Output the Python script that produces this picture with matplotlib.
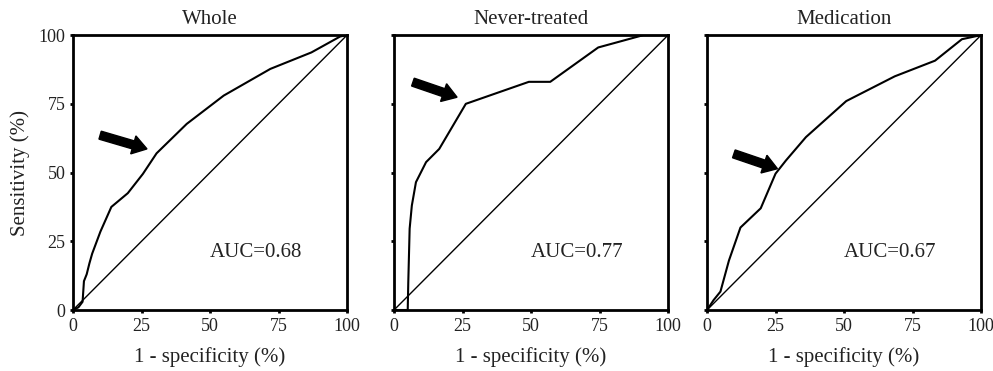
import matplotlib
matplotlib.use("Agg")
import matplotlib.pyplot as plt
import numpy as np

plt.rcParams["font.family"] = ["Liberation Serif", "DejaVu Serif"]

TITLES = ["Whole", "Never-treated", "Medication"]
AUC_LABELS = ["AUC=0.68", "AUC=0.77", "AUC=0.67"]
TICKS = [0, 25, 50, 75, 100]

# ROC curves (1 - specificity, sensitivity), in %
whole_x = [0, 2, 3.5, 4, 5, 6, 7, 10, 14, 20, 25.5, 30.5, 41.5, 55, 72, 87, 97.5, 100]
whole_y = [0, 1, 3, 10.5, 13, 17, 20.5, 28.5, 37.5, 42.5, 49.5, 57, 67.7, 78, 87.7, 93.7, 99.5, 100]

never_x = [0, 5, 5.2, 5.7, 6.5, 8, 11.7, 16.5, 26.2, 49.2, 57, 74.5, 91, 100]
never_y = [0, 0, 10, 29.6, 38, 46.5, 53.8, 58.6, 75, 83, 83, 95.5, 100, 100]

med_x = [0, 2.4, 4.9, 8, 12.2, 19.6, 25, 28.8, 36.1, 50.8, 68.5, 83.2, 93, 100]
med_y = [0, 3.6, 6.7, 18, 30, 37, 49.6, 54.4, 62.9, 76, 85, 90.7, 98.5, 100]

CURVES = [(whole_x, whole_y), (never_x, never_y), (med_x, med_y)]

# arrows: (tail x, tail y, tip x, tip y)
ARROWS = [(9.9, 63.6, 27.0, 58.6), (6.9, 82.9, 23.0, 77.4), (9.8, 56.8, 25.7, 51.4)]

fig = plt.figure(figsize=(9.93, 3.71), dpi=100)
lefts = [0.0735, 0.3968, 0.712]

for i in range(3):
    ax = fig.add_axes([lefts[i], 0.1644, 0.276, 0.741])
    cx, cy = CURVES[i]
    ax.plot(cx, cy, color="black", lw=1.5, solid_joinstyle="round")
    ax.plot([0, 100], [0, 100], color="black", lw=1.0)

    tx, ty, hx, hy = ARROWS[i]
    ax.arrow(tx, ty, hx - tx, hy - ty, width=3.0, head_width=6.8,
             head_length=5.2, length_includes_head=True,
             color="black", zorder=5)

    ax.text(50, 21, AUC_LABELS[i], fontsize=15, va="center", ha="left",
            color="#222222")
    ax.set_title(TITLES[i], fontsize=15, pad=8, color="#222222")

    ax.set_xlim(0, 100)
    ax.set_ylim(0, 100)
    ax.set_xticks(TICKS)
    ax.set_yticks(TICKS)
    ax.tick_params(direction="out", length=2.5, width=2, labelsize=13,
                   pad=3, colors="black", labelcolor="#222222")
    if i > 0:
        ax.set_yticklabels([])
    else:
        ax.set_ylabel("Sensitivity (%)", fontsize=15, labelpad=6,
                      color="#222222")
    ax.set_xlabel("1 - specificity (%)", fontsize=15, labelpad=9,
                  color="#222222")
    for s in ax.spines.values():
        s.set_linewidth(2)

fig.savefig("out.png", dpi=100)
